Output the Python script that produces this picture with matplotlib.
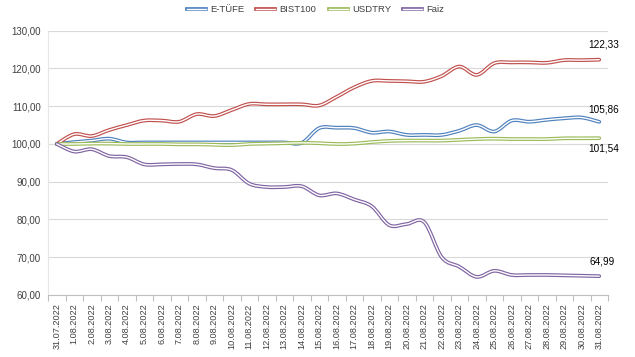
import matplotlib
matplotlib.use("Agg")
import matplotlib.pyplot as plt
from matplotlib.path import Path
from matplotlib.patches import PathPatch
from matplotlib.lines import Line2D
from matplotlib.ticker import FixedLocator, FuncFormatter

plt.rcParams['font.family'] = ['Liberation Sans', 'DejaVu Sans']

# dates 31.07.2022 .. 31.08.2022
dates = ["31.07.2022"] + ["%d.08.2022" % d for d in range(1, 32)]

etufe = [100.0, 100.5, 100.9, 101.4, 100.4, 100.4, 100.4, 100.4, 100.4, 100.4,
         100.4, 100.4, 100.4, 100.4, 100.3, 104.2, 104.3, 104.2, 103.0, 103.3,
         102.4, 102.4, 102.4, 103.5, 105.0, 103.3, 106.2, 105.9, 106.4, 106.8,
         107.0, 105.86]
bist100 = [100.0, 102.6, 102.1, 103.7, 105.0, 106.2, 106.2, 105.9, 107.9, 107.4,
           109.0, 110.6, 110.5, 110.5, 110.5, 110.2, 112.5, 115.0, 116.7, 116.7,
           116.6, 116.5, 118.0, 120.5, 118.3, 121.4, 121.6, 121.6, 121.5, 122.2,
           122.2, 122.33]
usdtry = [100.0, 100.0, 100.1, 100.1, 100.0, 100.0, 100.0, 99.9, 99.9, 99.8,
          99.7, 100.0, 100.1, 100.2, 100.3, 100.2, 100.0, 100.1, 100.5, 100.8,
          100.9, 100.9, 100.9, 101.1, 101.3, 101.4, 101.3, 101.3, 101.3, 101.5,
          101.5, 101.54]
faiz = [100.0, 98.0, 98.6, 96.8, 96.5, 94.6, 94.6, 94.7, 94.6, 93.6,
        93.1, 89.5, 88.6, 88.6, 88.8, 86.4, 86.9, 85.3, 83.5, 78.5,
        78.8, 79.3, 70.0, 67.5, 64.8, 66.4, 65.3, 65.3, 65.3, 65.2,
        65.1, 64.99]

names = ["E-TÜFE", "BIST100", "USDTRY", "Faiz"]
series = [etufe, bist100, usdtry, faiz]
colors = ["#4F81BD", "#C0504D", "#9BBB59", "#8064A2"]


def smooth_path(ys):
    # excel-like smoothed line as bezier segments
    n = len(ys)
    pts = [(float(i), ys[i]) for i in range(n)]
    verts = [pts[0]]
    codes = [Path.MOVETO]
    for i in range(n - 1):
        p0 = pts[max(i - 1, 0)]
        p1 = pts[i]
        p2 = pts[i + 1]
        p3 = pts[min(i + 2, n - 1)]
        c1 = (p1[0] + (p2[0] - p0[0]) / 6, p1[1] + (p2[1] - p0[1]) / 6)
        c2 = (p2[0] - (p3[0] - p1[0]) / 6, p2[1] - (p3[1] - p1[1]) / 6)
        verts += [c1, c2, p2]
        codes += [Path.CURVE4] * 3
    return Path(verts, codes)


fig = plt.figure(figsize=(6.35, 3.57), dpi=100)
ax = fig.add_axes([48 / 635, 1 - 295 / 357, 560 / 635, (295 - 30.7) / 357])

for ys, c in zip(series, colors):
    p = smooth_path(ys)
    ax.add_patch(PathPatch(p, fill=False, edgecolor=c, lw=2.7, capstyle='round', joinstyle='round'))
    ax.add_patch(PathPatch(p, fill=False, edgecolor='white', lw=1.0, capstyle='round', joinstyle='round'))

ax.set_xlim(-0.5, 31.5)
ax.set_ylim(60, 130)
ax.set_yticks(range(60, 131, 10))
ax.yaxis.set_major_formatter(FuncFormatter(lambda v, p: ("%.2f" % v).replace(".", ",")))
ax.grid(axis='y', color='#D9D9D9', lw=0.8)
ax.set_axisbelow(True)

ax.set_xticks(range(len(dates)))
ax.set_xticklabels(dates, rotation=90, fontsize=6.6, color='#404040')
ax.xaxis.set_minor_locator(FixedLocator([i + 0.5 for i in range(-1, len(dates))]))
ax.tick_params(axis='x', which='major', length=0, pad=6)
ax.tick_params(axis='x', which='minor', length=4, color='#BFBFBF', width=0.8)
ax.tick_params(axis='y', length=0, labelsize=7, labelcolor='#404040', pad=5)

for s in ['top', 'right']:
    ax.spines[s].set_visible(False)
ax.spines['bottom'].set_color('#BFBFBF')
ax.spines['left'].set_color('#E6E6E6')

# end labels
last = len(dates) - 1
ax.annotate(("%.2f" % bist100[-1]).replace(".", ","), (last, bist100[-1]), xytext=(3, 7),
            textcoords='offset points', ha='center', va='bottom', fontsize=7.2)
ax.annotate(("%.2f" % etufe[-1]).replace(".", ","), (last, etufe[-1]), xytext=(3, 5),
            textcoords='offset points', ha='center', va='bottom', fontsize=7.2)
ax.annotate(("%.2f" % usdtry[-1]).replace(".", ","), (last, usdtry[-1]), xytext=(3, -4),
            textcoords='offset points', ha='center', va='top', fontsize=7.2)
ax.annotate(("%.2f" % faiz[-1]).replace(".", ","), (last, faiz[-1]), xytext=(2, 7),
            textcoords='offset points', ha='center', va='bottom', fontsize=7.2)

handles = []
for c in colors:
    handles.append((Line2D([], [], color=c, lw=2.7), Line2D([], [], color='white', lw=1.0)))
fig.legend(handles, names, loc='upper center', bbox_to_anchor=(0.497, 1.01), ncol=4,
           frameon=False, fontsize=6.8, handlelength=2.0, handletextpad=0.45,
           columnspacing=1.3, labelcolor='#404040')

fig.savefig("out.png", dpi=100)
